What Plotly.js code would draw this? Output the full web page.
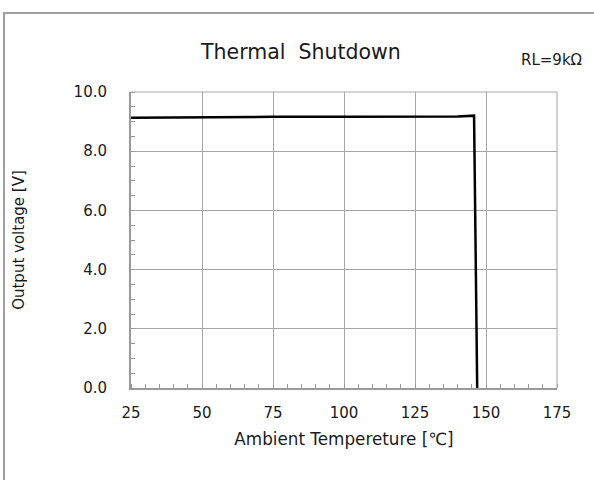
<!DOCTYPE html>
<html><head><meta charset="utf-8">
<script src="https://cdn.plot.ly/plotly-3.0.1.min.js"></script>
<style>
html,body{margin:0;padding:0;background:#fff;}
#frame{position:absolute;left:3px;top:12px;width:700px;height:600px;border-left:2px solid #a0a0a0;border-top:2px solid #a0a0a0;}
#chart{position:absolute;left:0;top:0;width:594px;height:480px;}
</style></head>
<body>
<div id="frame"></div>
<div id="chart"></div>
<script>
const temperature = [25, 50, 75, 100, 125, 140, 145.8, 146.9];
const outputVoltage = [9.13, 9.15, 9.16, 9.16, 9.17, 9.17, 9.2, 0];
const xTicks = [25, 50, 75, 100, 125, 150, 175];
const yTicks = [0, 2, 4, 6, 8, 10];
const yTickLabels = ['0.0', '2.0', '4.0', '6.0', '8.0', '10.0'];
const titleText = 'Thermal\u00a0\u00a0Shutdown';
const noteText = 'RL=9k\u03a9';
const xTitle = 'Ambient Tempereture [\u2103]';
const yTitle = 'Output voltage [V]';

const font = 'DejaVu Sans, Verdana, sans-serif';
const data = [{
  x: temperature, y: outputVoltage, type: 'scatter', mode: 'lines',
  line: {color: '#000', width: 2.5}, showlegend: false, hoverinfo: 'skip'
}];
const layout = {
  width: 594, height: 480,
  paper_bgcolor: 'rgba(0,0,0,0)', plot_bgcolor: 'rgba(0,0,0,0)',
  margin: {l: 131, r: 37, t: 92, b: 92},
  font: {family: font, size: 14, color: '#1a1a1a'},
  xaxis: {
    range: [25, 175], tickvals: xTicks, showgrid: true, gridcolor: '#a6a6a6', gridwidth: 1,
    showline: true, linecolor: '#999', linewidth: 2, mirror: false, zeroline: false,
    ticks: '', tickfont: {size: 15}, ticklabelstandoff: 10,
    minor: {dtick: 5, tick0: 25, ticks: 'inside', ticklen: 4, tickcolor: '#999', tickwidth: 1, showgrid: false},
    title: {text: xTitle, font: {size: 16.8}, standoff: 12}
  },
  yaxis: {
    range: [0, 10], tickvals: yTicks, ticktext: yTickLabels, showgrid: true, gridcolor: '#a6a6a6', gridwidth: 1,
    showline: true, linecolor: '#999', linewidth: 2, zeroline: false,
    ticks: '', tickfont: {size: 15}, ticklabelstandoff: 19,
    minor: {dtick: 0.5, tick0: 0, ticks: 'inside', ticklen: 4, tickcolor: '#999', tickwidth: 1, showgrid: false},
    title: {text: yTitle, font: {size: 15}, standoff: 45}
  },
  shapes: [
    {type: 'line', xref: 'paper', yref: 'paper', x0: 1, x1: 1, y0: 0, y1: 1, line: {color: '#a6a6a6', width: 1}},
    {type: 'line', xref: 'paper', yref: 'paper', x0: 0, x1: 1, y0: 1, y1: 1, line: {color: '#a6a6a6', width: 1}}
  ],
  annotations: [
    {text: titleText, xref: 'paper', yref: 'paper', x: 0.397, y: 1.135, xanchor: 'center', yanchor: 'middle', showarrow: false, font: {size: 20.5}},
    {text: noteText, xref: 'paper', yref: 'paper', x: 0.986, y: 1.108, xanchor: 'center', yanchor: 'middle', showarrow: false, font: {size: 15}}
  ]
};
Plotly.newPlot('chart', data, layout, {staticPlot: true, displayModeBar: false});
</script>
</body></html>
